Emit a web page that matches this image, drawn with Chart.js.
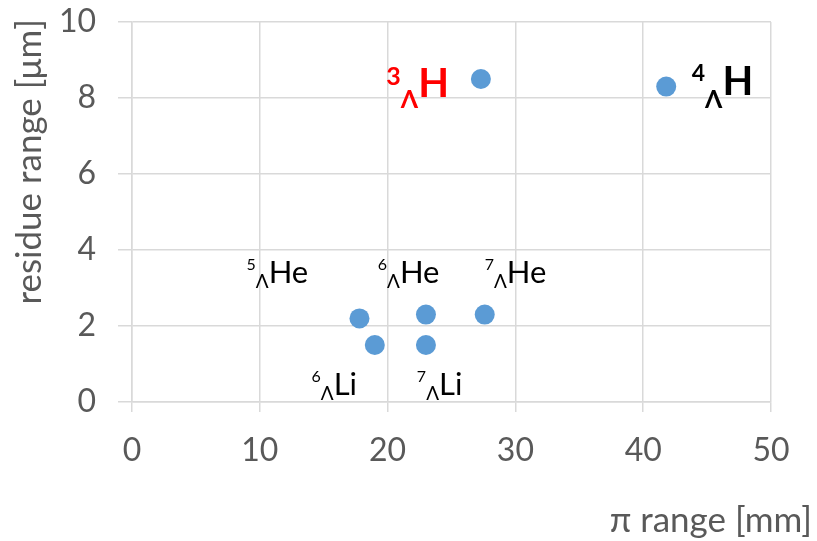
<!DOCTYPE html>
<html>
<head>
<meta charset="utf-8">
<script src="https://cdn.jsdelivr.net/npm/chart.js@4/dist/chart.umd.min.js"></script>
<style>
  html, body { margin: 0; padding: 0; background: #ffffff; }
  #wrap { width: 817px; height: 541px; }
</style>
</head>
<body>
<div id="wrap"><canvas id="chart" width="817" height="541"></canvas></div>
<script>
// Measured ranges of hypernuclei: pion range vs. residue range
const piRange      = [17.8, 19.0, 23.0, 23.0, 27.6, 27.3, 41.8];
const residueRange = [2.2, 1.5, 2.3, 1.5, 2.3, 8.5, 8.3];

// Axis ticks
const xTicks = [0, 10, 20, 30, 40, 50];
const yTicks = [0, 2, 4, 6, 8, 10];

// Hypernucleus labels: mass number, element, anchor (left edge, baseline) in data units
const labelMass    = ['5', '6', '7', '6', '7', '3', '4'];
const labelElement = ['He', 'He', 'He', 'Li', 'Li', 'H', 'H'];
const labelX       = [8.96, 19.23, 27.6, 14.05, 22.29, 19.9, 43.8];
const labelY       = [3.13, 3.13, 3.13, 0.18, 0.18, 8.02, 8.09];
const labelKind    = ['plain', 'plain', 'plain', 'plain', 'plain', 'red', 'bold'];

const xTitle = 'π range [mm]';
const yTitle = 'residue range [μm]';

const FONT = 'Lato, "Open Sans", sans-serif';
const labelStyles = {
  plain: { color: '#000000', weight: 'normal', main: 31, sup: 16, supShift: -13, sub: 19, subShift: 5 },
  red:   { color: '#FF0000', weight: 'bold',   main: 40, sup: 25, supShift: -12, sub: 25, subShift: 11 },
  bold:  { color: '#000000', weight: 'bold',   main: 40, sup: 23, supShift: -14, sub: 25, subShift: 13 }
};

const points = piRange.map((x, i) => ({ x: x, y: residueRange[i] }));

const annotations = {
  id: 'annotations',
  afterDatasetsDraw(chart) {
    const ctx = chart.ctx;
    const xs = chart.scales.x, ys = chart.scales.y;
    ctx.save();
    ctx.textBaseline = 'alphabetic';
    ctx.textAlign = 'left';
    for (let i = 0; i < labelMass.length; i++) {
      const st = labelStyles[labelKind[i]];
      let px = xs.getPixelForValue(labelX[i]);
      const base = ys.getPixelForValue(labelY[i]);
      ctx.fillStyle = st.color;
      // superscript mass number
      ctx.font = st.weight + ' ' + st.sup + 'px ' + FONT;
      ctx.fillText(labelMass[i], px, base + st.supShift);
      px += ctx.measureText(labelMass[i]).width;
      // subscript Lambda
      ctx.font = st.weight + ' ' + st.sub + 'px ' + FONT;
      ctx.fillText('Λ', px, base + st.subShift);
      px += ctx.measureText('Λ').width;
      // element symbol
      ctx.font = st.weight + ' ' + st.main + 'px ' + FONT;
      ctx.fillText(labelElement[i], px, base);
    }
    ctx.restore();
  },
  afterDraw(chart) {
    const ctx = chart.ctx;
    ctx.save();
    ctx.fillStyle = '#595959';
    ctx.font = '35px ' + FONT;
    // x axis title, right aligned under the plot
    ctx.textAlign = 'right';
    ctx.textBaseline = 'middle';
    ctx.fillText(xTitle, 812, 521);
    // y axis title, rotated, starting near the top
    ctx.translate(30, 19);
    ctx.rotate(-Math.PI / 2);
    ctx.textAlign = 'right';
    ctx.textBaseline = 'middle';
    ctx.fillText(yTitle, 0, 0);
    ctx.restore();
  }
};

new Chart(document.getElementById('chart'), {
  type: 'scatter',
  data: {
    datasets: [{
      data: points,
      backgroundColor: '#5B9BD5',
      borderColor: '#5B9BD5',
      borderWidth: 0,
      pointRadius: 10,
      pointHoverRadius: 10
    }]
  },
  options: {
    responsive: false,
    animation: false,
    events: [],
    layout: { padding: { top: 22, right: 46, left: 0, bottom: 0 } },
    plugins: { legend: { display: false }, tooltip: { enabled: false } },
    scales: {
      x: {
        type: 'linear',
        min: xTicks[0],
        max: xTicks[xTicks.length - 1],
        afterBuildTicks: (s) => { s.ticks = xTicks.map(v => ({ value: v })); },
        afterFit: (s) => { s.height = 139; s.paddingLeft = 0; s.paddingRight = 0; },
        grid: { color: '#D9D9D9', lineWidth: 1.5, drawTicks: true, tickLength: 10 },
        border: { display: true, color: '#D9D9D9', width: 1.5 },
        ticks: { color: '#595959', font: { family: FONT, size: 32 }, padding: 19 }
      },
      y: {
        type: 'linear',
        min: yTicks[0],
        max: yTicks[yTicks.length - 1],
        afterBuildTicks: (s) => { s.ticks = yTicks.map(v => ({ value: v })); },
        afterFit: (s) => { s.width = 132; s.paddingTop = 0; s.paddingBottom = 0; },
        grid: { color: '#D9D9D9', lineWidth: 1.5, drawTicks: true, tickLength: 14 },
        border: { display: true, color: '#D9D9D9', width: 1.5 },
        ticks: { color: '#595959', font: { family: FONT, size: 32 }, padding: 22 }
      }
    }
  },
  plugins: [annotations]
});
</script>
</body>
</html>
